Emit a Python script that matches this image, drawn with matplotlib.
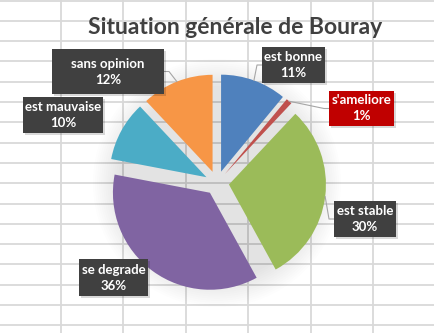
import matplotlib
matplotlib.use("Agg")
import matplotlib.pyplot as plt
import numpy as np
from matplotlib.patches import Circle, Rectangle

categories = ["est bonne", "s'ameliore", "est stable", "se degrade", "est mauvaise", "sans opinion"]
shares = [11, 1, 30, 36, 10, 12]
colors = ["#4F81BD", "#C0504D", "#9BBB59", "#8064A2", "#4BACC6", "#F79646"]
title = "Situation générale de Bouray"

W, H = 435, 333
CX, CY, R = 217, 183, 97  # pie centre / radius in pixels
EXPLODE = 0.124

# label boxes in pixels: left, top, right, bottom
boxes = [(262, 47, 325, 83), (329, 91, 394, 126), (334, 201, 396, 237),
         (79, 259, 148, 296), (23, 97, 103, 133), (52, 49, 164, 94)]
box_colors = ["#404040", "#C00000", "#404040", "#404040", "#404040", "#404040"]
leaders = [True, True, True, False, False, True]


def px(x, y):
    """pixel (y down) -> pie data coords"""
    return (x - CX) / R, (CY - y) / R


fig = plt.figure(figsize=(W / 100, H / 100), dpi=100)
fig.patch.set_facecolor("white")

# spreadsheet grid behind the chart
bg = fig.add_axes([0, 0, 1, 1])
bg.set_xlim(0, W)
bg.set_ylim(H, 0)
bg.axis("off")
for x in np.arange(61, W, 62.4):
    bg.axvline(x, color="#D9D9D9", lw=1.3)
for y in np.arange(0.5, H, 20.3):
    bg.axhline(y, color="#D9D9D9", lw=1.3)

ax = fig.add_axes([0, 0, 1, 1])
ax.patch.set_alpha(0)

# soft glow under the pie
for r in np.linspace(1.0, 1.28, 14):
    ax.add_patch(Circle((0, 0), r, color="#000000", alpha=0.0075, lw=0, zorder=0))

wedges, _ = ax.pie(shares, colors=colors, startangle=90, counterclock=False,
                   explode=[EXPLODE] * len(shares), radius=1,
                   wedgeprops=dict(linewidth=0))

x0, y0 = px(0, H)
x1, y1 = px(W, 0)
ax.set_xlim(x0, x1)
ax.set_ylim(y0, y1)
ax.set_aspect("auto")
ax.axis("off")

for w, name, v, box, bc, lead in zip(wedges, categories, shares, boxes, box_colors, leaders):
    l, t, r_, b = box
    bx0, by0 = px(l, b)
    bx1, by1 = px(r_, t)
    # shadow + box
    ax.add_patch(Rectangle((bx0 + 2 / R, by0 - 2 / R), bx1 - bx0, by1 - by0,
                           fc="#000000", alpha=0.15, lw=0, zorder=3))
    ax.add_patch(Rectangle((bx0, by0), bx1 - bx0, by1 - by0, fc=bc, lw=0, zorder=4))
    ax.text((bx0 + bx1) / 2, (by0 + by1) / 2, f"{name}\n{v}%", ha="center", va="center",
            color="white", fontsize=9.5, fontweight="bold", family="Lato",
            linespacing=1.4, zorder=5)
    if lead:
        mid = np.deg2rad((w.theta1 + w.theta2) / 2)
        ax_, ay_ = w.center[0] + np.cos(mid), w.center[1] + np.sin(mid)
        my = (by0 + by1) / 2
        if ax_ > bx1:
            sx = bx1
            ex = sx + 5 / R
        else:
            sx = bx0
            ex = sx - 5 / R
        ax.plot([sx, ex, ax_], [my, my, ay_], color="#A6A6A6", lw=0.8, zorder=2)

fig.text(235 / W, 1 - 27 / H, title, ha="center", va="center", fontsize=16.5,
         fontweight="bold", family="Lato", color="#404040")

fig.savefig("out.png", dpi=100)
